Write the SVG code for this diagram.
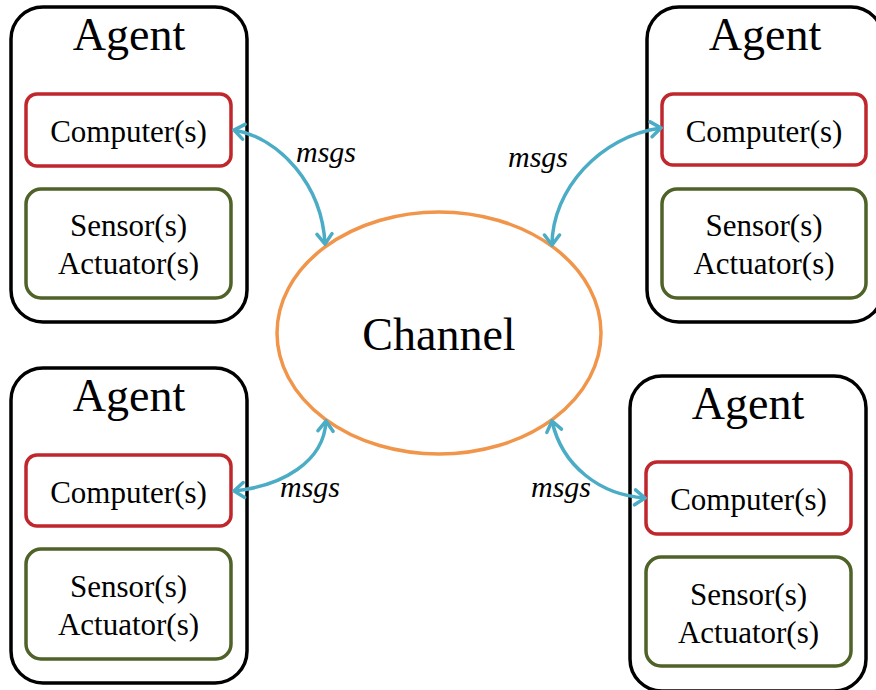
<svg xmlns="http://www.w3.org/2000/svg" width="876" height="690" viewBox="0 0 876 690">
<defs>
<style>
.agent{fill:#fff;stroke:#000;stroke-width:3.5}
.comp{fill:#fff;stroke:#c0272d;stroke-width:3.5}
.sens{fill:#fff;stroke:#4f6228;stroke-width:3.5}
.chan{fill:#fff;stroke:#f0954a;stroke-width:3.5}
.t{font-family:"Liberation Serif","Times New Roman",serif;fill:#000;text-anchor:middle}
.big{font-size:46px}
.mid{font-size:31px}
.msg{font-family:"Liberation Serif","Times New Roman",serif;font-style:italic;font-size:30px;fill:#000}
.conn{fill:none;stroke:#4bacc6;stroke-width:3.5;marker-start:url(#ah);marker-end:url(#ah)}
</style>
<marker id="ah" markerUnits="userSpaceOnUse" viewBox="-14 -10 16 20" refX="0" refY="0" markerWidth="16" markerHeight="20" orient="auto-start-reverse">
<path d="M-10,-7.5 L0,0 L-10,7.5" fill="none" stroke="#4bacc6" stroke-width="3.5" stroke-linecap="round" stroke-linejoin="miter"/>
</marker>
</defs>
<rect width="876" height="690" fill="#fff"/>

<g id="channel">
<ellipse class="chan" cx="439" cy="333" rx="162" ry="121"/>
<text class="t big" x="439" y="350">Channel</text>
</g>

<g id="agent-tl">
<rect class="agent" x="11" y="7" width="236" height="315" rx="32"/>
<text class="t big" x="129" y="50">Agent</text>
<rect class="comp" x="26" y="94" width="205" height="72" rx="11"/>
<text class="t mid" x="128.5" y="142">Computer(s)</text>
<rect class="sens" x="26" y="189" width="205" height="109" rx="15"/>
<text class="t mid" x="128.5" y="236">Sensor(s)</text>
<text class="t mid" x="128.5" y="274">Actuator(s)</text>
</g>

<g id="agent-tr">
<rect class="agent" x="647" y="7" width="236" height="315" rx="32"/>
<text class="t big" x="765" y="50">Agent</text>
<rect class="comp" x="662" y="94" width="204" height="71" rx="11"/>
<text class="t mid" x="764" y="142">Computer(s)</text>
<rect class="sens" x="662" y="189" width="204" height="109" rx="15"/>
<text class="t mid" x="764" y="236">Sensor(s)</text>
<text class="t mid" x="764" y="274">Actuator(s)</text>
</g>

<g id="agent-bl">
<rect class="agent" x="11" y="368" width="236" height="315" rx="32"/>
<text class="t big" x="129" y="411">Agent</text>
<rect class="comp" x="26" y="455" width="205" height="71" rx="11"/>
<text class="t mid" x="128.5" y="503">Computer(s)</text>
<rect class="sens" x="26" y="549" width="205" height="110" rx="15"/>
<text class="t mid" x="128.5" y="597">Sensor(s)</text>
<text class="t mid" x="128.5" y="635">Actuator(s)</text>
</g>

<g id="agent-br">
<rect class="agent" x="630" y="376" width="236" height="315" rx="32"/>
<text class="t big" x="748" y="419">Agent</text>
<rect class="comp" x="646" y="462" width="205" height="72" rx="11"/>
<text class="t mid" x="748.5" y="510">Computer(s)</text>
<rect class="sens" x="646" y="557" width="205" height="109" rx="15"/>
<text class="t mid" x="748.5" y="605">Sensor(s)</text>
<text class="t mid" x="748.5" y="643">Actuator(s)</text>
</g>

<g id="connectors">
<path class="conn" d="M234,130 C280,138 322,185 325,244"/>
<path class="conn" d="M552,245 C552,190 600,136 661,128"/>
<path class="conn" d="M234,491 C282,486 324,462 326,421"/>
<path class="conn" d="M552,421 C562,466 600,495 645,498"/>
<text class="msg" x="296" y="162">msgs</text>
<text class="msg" x="508" y="167">msgs</text>
<text class="msg" x="280" y="497">msgs</text>
<text class="msg" x="531" y="497">msgs</text>
</g>
</svg>
